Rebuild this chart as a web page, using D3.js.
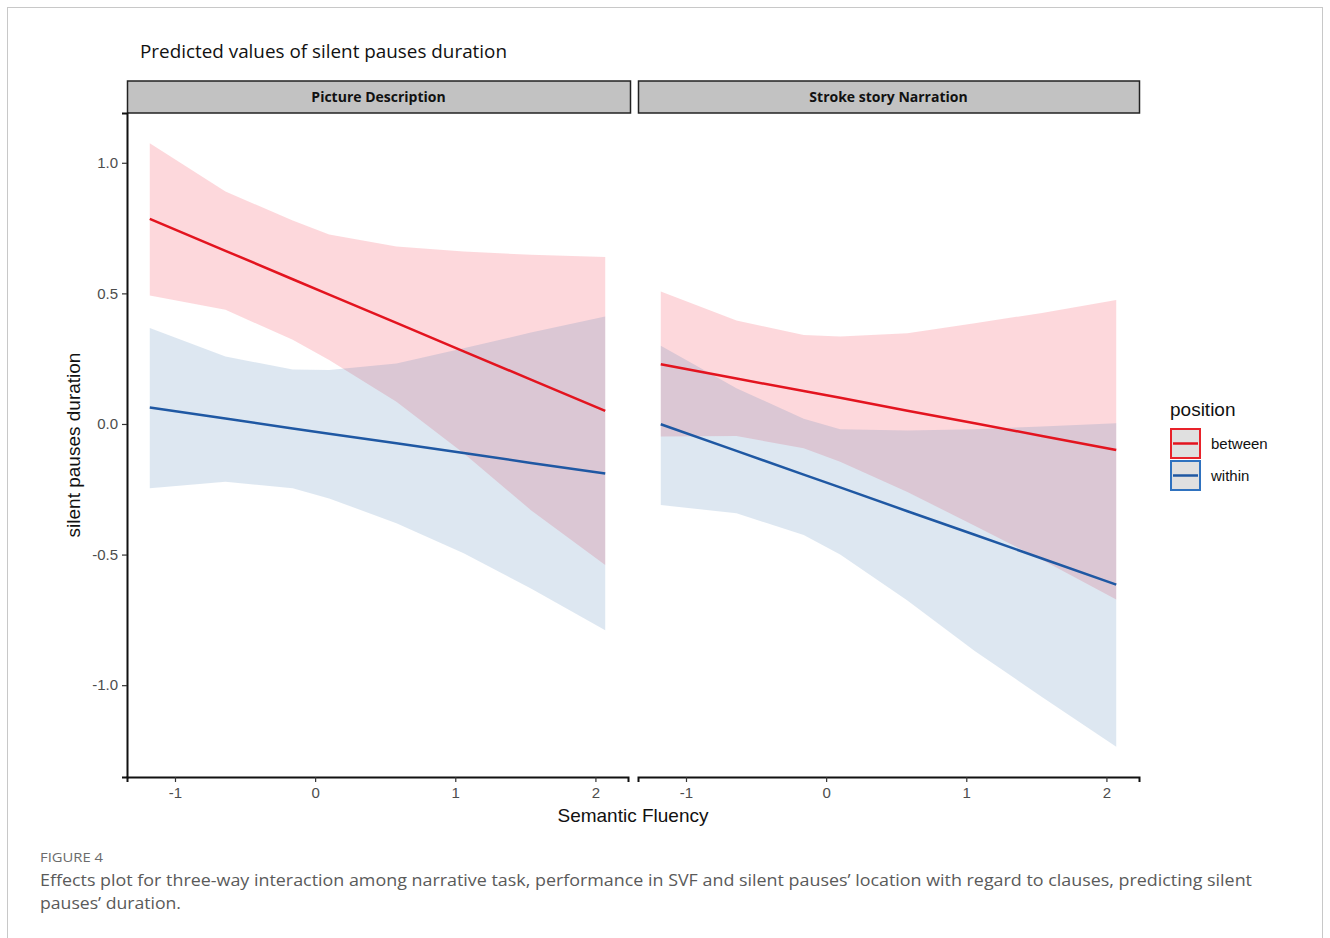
<!DOCTYPE html>
<meta charset="utf-8">
<title>Predicted values of silent pauses duration</title>
<style>
body{ margin:0; background:#fff; }
svg{ display:block; }
.tick text{ font-family:"Liberation Sans", Arial, sans-serif; }
</style>
<body>
<script src="https://cdn.jsdelivr.net/npm/d3@7"></script>
<script>
// values (x = semantic fluency, y = predicted silent pause duration)
var xGrid = [-1.18, -0.64, -0.16, 0.10, 0.58, 1.06, 1.54, 2.07];
var panels = ["Picture Description", "Stroke story Narration"];
var positions = ["between", "within"];
var xTicks = [-1, 0, 1, 2];
var yTicks = [-1.0, -0.5, 0.0, 0.5, 1.0];

// Picture Description
var picBetweenFit  = [0.785, 0.663, 0.554, 0.495, 0.387, 0.278, 0.170, 0.050];
var picBetweenHigh = [1.075, 0.890, 0.779, 0.725, 0.679, 0.660, 0.648, 0.639];
var picBetweenLow  = [0.492, 0.437, 0.322, 0.245, 0.085, -0.112, -0.330, -0.540];
var picWithinFit   = [0.063, 0.021, -0.017, -0.037, -0.074, -0.111, -0.149, -0.190];
var picWithinHigh  = [0.367, 0.258, 0.209, 0.207, 0.232, 0.290, 0.350, 0.411];
var picWithinLow   = [-0.246, -0.221, -0.246, -0.285, -0.380, -0.495, -0.630, -0.790];

// Stroke story Narration
var storyBetweenFit  = [0.229, 0.174, 0.126, 0.100, 0.051, 0.003, -0.046, -0.100];
var storyBetweenHigh = [0.507, 0.396, 0.341, 0.335, 0.347, 0.386, 0.425, 0.475];
var storyBetweenLow  = [-0.048, -0.046, -0.093, -0.145, -0.260, -0.390, -0.520, -0.672];
var storyWithinFit   = [-0.001, -0.103, -0.194, -0.243, -0.334, -0.424, -0.515, -0.615];
var storyWithinHigh  = [0.299, 0.137, 0.020, -0.020, -0.025, -0.020, -0.010, 0.003];
var storyWithinLow   = [-0.310, -0.342, -0.425, -0.500, -0.676, -0.869, -1.045, -1.236];

var series = [
  [ {fit: picBetweenFit, lo: picBetweenLow, hi: picBetweenHigh},
    {fit: picWithinFit, lo: picWithinLow, hi: picWithinHigh} ],
  [ {fit: storyBetweenFit, lo: storyBetweenLow, hi: storyBetweenHigh},
    {fit: storyWithinFit, lo: storyWithinLow, hi: storyWithinHigh} ]
];

var lineColors = {"between": "#e3141f", "within": "#1f58a3"};
var bandColors = {"between": "#f4263d", "within": "#427ab1"};

var width = 1330, height = 938;
var panelTop = 113, panelBottom = 777;
var panelLeft = [127, 638], panelWidth = 501;
var stripTop = 81;

var svg = d3.select("body").append("svg")
  .attr("width", width)
  .attr("height", height);

// frame round the figure
svg.append("rect")
  .attr("x", 7.5).attr("y", 7.5)
  .attr("width", 1315).attr("height", 960)
  .attr("fill", "#fff")
  .attr("stroke", "#c8c8c8");

// ggplot style expansion of 5%
function expand(ext){
  var pad = (ext[1] - ext[0]) * 0.05;
  return [ext[0] - pad, ext[1] + pad];
}
var allY = [].concat(picBetweenHigh, picBetweenLow, picWithinHigh, picWithinLow,
  storyBetweenHigh, storyBetweenLow, storyWithinHigh, storyWithinLow);

var y = d3.scaleLinear()
  .domain(expand(d3.extent(allY)))
  .range([panelBottom, panelTop]);

svg.append("text")
  .attr("x", 140).attr("y", 58)
  .attr("font-family", "Open Sans, sans-serif")
  .attr("font-size", 19)
  .attr("textLength", 367)
  .attr("lengthAdjust", "spacingAndGlyphs")
  .attr("fill", "#111")
  .text("Predicted values of silent pauses duration");

panels.forEach(function(name, p){
  var x = d3.scaleLinear()
    .domain(expand(d3.extent(xGrid)))
    .range([panelLeft[p], panelLeft[p] + panelWidth]);

  var g = svg.append("g");

  // strip
  g.append("rect")
    .attr("x", panelLeft[p] + 0.5)
    .attr("y", stripTop)
    .attr("width", p ? panelWidth : panelWidth + 2)
    .attr("height", 32)
    .attr("fill", "#c2c2c2")
    .attr("stroke", "#222")
    .attr("stroke-width", 1.5);
  g.append("text")
    .attr("x", panelLeft[p] + (p ? panelWidth : panelWidth + 2) / 2)
    .attr("y", stripTop + 21)
    .attr("text-anchor", "middle")
    .attr("font-family", "Open Sans, sans-serif")
    .attr("font-weight", 700)
    .attr("font-size", 14)
    .attr("fill", "#111")
    .text(name);

  var area = d3.area()
    .x(function(d){ return x(d.x); })
    .y0(function(d){ return y(d.lo); })
    .y1(function(d){ return y(d.hi); });
  var line = d3.line()
    .x(function(d){ return x(d.x); })
    .y(function(d){ return y(d.fit); });

  positions.forEach(function(pos, k){
    var s = series[p][k];
    var pts = xGrid.map(function(v, i){ return {x: v, fit: s.fit[i], lo: s.lo[i], hi: s.hi[i]}; });
    g.append("path")
      .datum(pts)
      .attr("d", area)
      .attr("fill", bandColors[pos])
      .attr("fill-opacity", 0.18);
  });
  positions.forEach(function(pos, k){
    var s = series[p][k];
    var pts = xGrid.map(function(v, i){ return {x: v, fit: s.fit[i]}; });
    g.append("path")
      .datum(pts)
      .attr("d", line)
      .attr("fill", "none")
      .attr("stroke", lineColors[pos])
      .attr("stroke-width", 2.5);
  });

  // x axis
  var xa = g.append("g")
    .attr("transform", "translate(0," + panelBottom + ")")
    .call(d3.axisBottom(x).tickValues(xTicks).tickSizeOuter(0).tickSize(5).tickPadding(5)
      .tickFormat(function(d){ return d < 0 ? "-" + Math.abs(d) : d; }));
  xa.select(".domain").attr("stroke", "#111").attr("stroke-width", 2);
  xa.selectAll(".tick line").attr("stroke", "#333").attr("stroke-width", 1.2);
  xa.selectAll(".tick text").attr("font-size", 15).attr("fill", "#4d4d4d");

  if(p == 0){
    var ya = g.append("g")
      .attr("transform", "translate(" + panelLeft[0] + ",0)")
      .call(d3.axisLeft(y).tickValues(yTicks).tickSizeOuter(0).tickSize(5).tickPadding(4)
        .tickFormat(function(d){ return d < 0 ? "-" + Math.abs(d).toFixed(1) : d.toFixed(1); }));
    ya.select(".domain").attr("stroke", "#111").attr("stroke-width", 2);
    ya.selectAll(".tick line").attr("stroke", "#333").attr("stroke-width", 1.2);
    ya.selectAll(".tick text").attr("font-size", 15).attr("fill", "#4d4d4d");
  }
});

// axis titles
svg.append("text")
  .attr("x", 633).attr("y", 822)
  .attr("text-anchor", "middle")
  .attr("font-family", "Liberation Sans, Arial, sans-serif")
  .attr("font-size", 19)
  .attr("fill", "#111")
  .text("Semantic Fluency");
svg.append("text")
  .attr("transform", "translate(80,445) rotate(-90)")
  .attr("text-anchor", "middle")
  .attr("font-family", "Liberation Sans, Arial, sans-serif")
  .attr("font-size", 19)
  .attr("fill", "#111")
  .text("silent pauses duration");

// legend
var legend = svg.append("g").attr("transform", "translate(1170,0)");
legend.append("text")
  .attr("x", 0).attr("y", 416)
  .attr("font-family", "Liberation Sans, Arial, sans-serif")
  .attr("font-size", 19)
  .attr("fill", "#111")
  .text("position");
positions.forEach(function(pos, k){
  var top = 429 + k * 32;
  legend.append("rect")
    .attr("x", 1).attr("y", top)
    .attr("width", 29).attr("height", 29)
    .attr("fill", "#e0e0e0")
    .attr("stroke", k ? "#2f72bf" : "#e8222a")
    .attr("stroke-width", 2);
  legend.append("line")
    .attr("x1", 3).attr("x2", 28)
    .attr("y1", top + 14.5).attr("y2", top + 14.5)
    .attr("stroke", lineColors[pos])
    .attr("stroke-width", 2.5);
  legend.append("text")
    .attr("x", 41).attr("y", top + 20)
    .attr("font-family", "Liberation Sans, Arial, sans-serif")
    .attr("font-size", 15)
    .attr("fill", "#111")
    .text(pos);
});

// caption
svg.append("text")
  .attr("x", 40).attr("y", 862)
  .attr("font-family", "Open Sans, sans-serif")
  .attr("font-size", 13)
  .attr("textLength", 63)
  .attr("lengthAdjust", "spacingAndGlyphs")
  .attr("fill", "#6b6b6b")
  .text("FIGURE 4");
svg.append("text")
  .attr("x", 40).attr("y", 886)
  .attr("font-family", "Open Sans, sans-serif")
  .attr("font-size", 17)
  .attr("textLength", 1212)
  .attr("lengthAdjust", "spacingAndGlyphs")
  .attr("fill", "#5a5a5a")
  .text("Effects plot for three-way interaction among narrative task, performance in SVF and silent pauses’ location with regard to clauses, predicting silent");
svg.append("text")
  .attr("x", 40).attr("y", 909)
  .attr("font-family", "Open Sans, sans-serif")
  .attr("font-size", 17)
  .attr("textLength", 141)
  .attr("lengthAdjust", "spacingAndGlyphs")
  .attr("fill", "#5a5a5a")
  .text("pauses’ duration.");
</script>
</body>
</html>
